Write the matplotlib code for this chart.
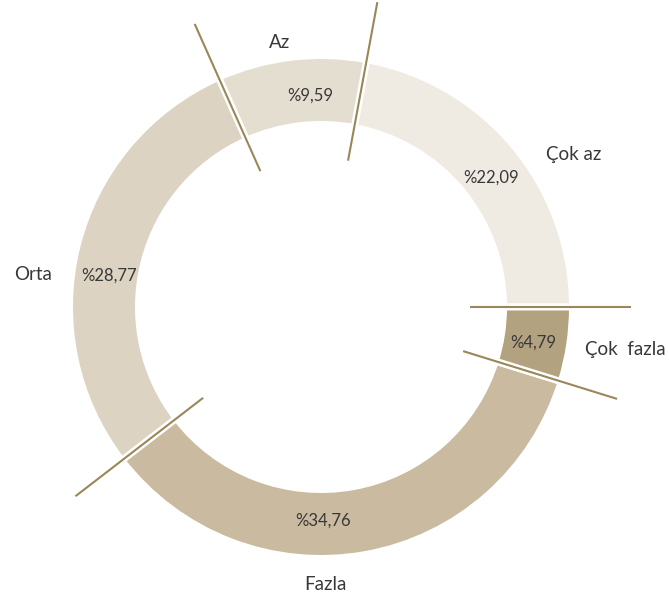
import matplotlib.pyplot as plt
import numpy as np

# kategoriler ve yuzdeler (saat 3 yonunden, saat yonunun tersine)
categories = ['Çok az', 'Az', 'Orta', 'Fazla', 'Çok  fazla']
values = [22.09, 9.59, 28.77, 34.76, 4.79]
pct_labels = ['%22,09', '%9,59', '%28,77', '%34,76', '%4,79']
colors = ['#EFEBE3', '#E4DED1', '#DCD3C3', '#C9BAA0', '#B3A27F']

# etiket yerleri (aci, yaricap)
name_pos = [(31.1, 1.19), (99.0, 1.08), (173.5, 1.17), (-89.0, 1.12), (-7.9, 1.24)]
pct_pos = [(37.2, 0.86), (93.0, 0.855), (171.5, 0.865), (-89.5, 0.86), (-9.6, 0.87)]

line_col = '#9A8759'
text_col = '#383838'
font = ['Lato', 'DejaVu Sans']

fig = plt.figure(figsize=(6.69, 6.01), dpi=100)
ax = fig.add_axes([0, 0, 1, 1])
R = 248.0

ax.pie(values, colors=colors, startangle=0, counterclock=True, radius=1.014,
       wedgeprops=dict(width=0.278, edgecolor='white', linewidth=5))

# dilimler arasindaki cizgiler
bounds = np.concatenate([[0], np.cumsum(values)]) / sum(values) * 360
for a in bounds[:-1]:
    t = np.radians(a)
    r = np.array([0.6, 1.25])
    ax.plot(r * np.cos(t), r * np.sin(t), color=line_col, lw=1.5,
            solid_capstyle='butt')

for name, (a, r) in zip(categories, name_pos):
    t = np.radians(a)
    ax.text(r * np.cos(t), r * np.sin(t), name, ha='center', va='center',
            fontsize=13.5, color=text_col, family=font)

for lab, (a, r) in zip(pct_labels, pct_pos):
    t = np.radians(a)
    ax.text(r * np.cos(t), r * np.sin(t), lab, ha='center', va='center',
            fontsize=12, color=text_col, family=font)

ax.set_xlim(-321 / R, 348 / R)
ax.set_ylim(-294 / R, 307 / R)
ax.set_aspect('equal')
ax.axis('off')

fig.savefig('out.png', dpi=100)
